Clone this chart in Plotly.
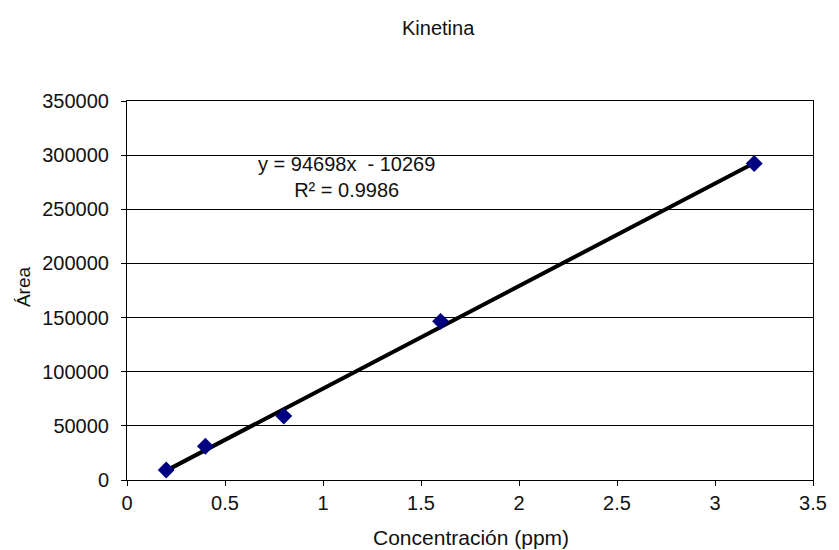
import numpy as np
import plotly.graph_objects as go

# Calibration data for kinetin
concentracion = [0.2, 0.4, 0.8, 1.6, 3.2]
area = [9300, 31200, 59000, 146500, 292300]

# Linear fit coefficients shown on the chart
pendiente = 94698
intercepto = -10269
r2 = 0.9986

x_tick_vals = [0, 0.5, 1, 1.5, 2, 2.5, 3, 3.5]
x_tick_text = ["0", "0.5", "1", "1.5", "2", "2.5", "3", "3.5"]
y_tick_vals = [0, 50000, 100000, 150000, 200000, 250000, 300000, 350000]

font_family = "Liberation Sans, Arial, sans-serif"

W, H = 839, 550
L, R, T, B = 127, 19, 101, 70
PW, PH = W - L - R, H - T - B


def px(x, y):
    """Convert page pixel coordinates to paper coordinates."""
    return (x - L) / PW, 1 - (y - T) / PH


x_fit = np.array([min(concentracion), max(concentracion)])
y_fit = pendiente * x_fit + intercepto

fig = go.Figure()
fig.add_trace(go.Scatter(
    x=x_fit, y=y_fit, mode="lines",
    line=dict(color="black", width=4),
    showlegend=False,
))
fig.add_trace(go.Scatter(
    x=concentracion, y=area, mode="markers",
    marker=dict(symbol="diamond", size=13, color="#000080",
                line=dict(width=0)),
    showlegend=False,
))

ex, ey = px(349, 177)
fig.add_annotation(
    x=ex, y=ey, xref="paper", yref="paper", xanchor="center", yanchor="middle",
    text=f"y = {pendiente}x  - {abs(intercepto)}<br>R² = {r2}",
    showarrow=False, align="center",
    font=dict(family=font_family, size=20, color="#111"),
)
tx, ty = px(442, 28)
fig.add_annotation(
    x=tx, y=ty, xref="paper", yref="paper", xanchor="center", yanchor="middle",
    text="Kinetina", showarrow=False,
    font=dict(family=font_family, size=20, color="#111"),
)
cx, cy = px(475, 537)
fig.add_annotation(
    x=cx, y=cy, xref="paper", yref="paper", xanchor="center", yanchor="middle",
    text="Concentración (ppm)", showarrow=False,
    font=dict(family=font_family, size=21, color="#111"),
)
ax_, ay_ = px(22, 287)
fig.add_annotation(
    x=ax_, y=ay_, xref="paper", yref="paper", xanchor="center", yanchor="middle",
    text="Área", showarrow=False, textangle=-90,
    font=dict(family=font_family, size=19, color="#111"),
)

fig.update_layout(
    width=W, height=H,
    margin=dict(l=L, r=R, t=T, b=B),
    paper_bgcolor="white", plot_bgcolor="white",
    font=dict(family=font_family, size=20, color="#111"),
    xaxis=dict(
        range=[0, 3.5], tickvals=x_tick_vals, ticktext=x_tick_text,
        ticks="outside", ticklen=5, tickcolor="black",
        showgrid=False, zeroline=False,
        showline=True, linecolor="black", linewidth=1, mirror=True,
        tickfont=dict(size=20),
    ),
    yaxis=dict(
        range=[0, 350000], tickvals=y_tick_vals,
        tickformat="d", ticks="outside", ticklen=5, tickcolor="black",
        ticklabelstandoff=8,
        showgrid=True, gridcolor="black", gridwidth=1, zeroline=False,
        showline=True, linecolor="black", linewidth=1, mirror=True,
        tickfont=dict(size=20),
    ),
)

fig.write_html("out.html")
